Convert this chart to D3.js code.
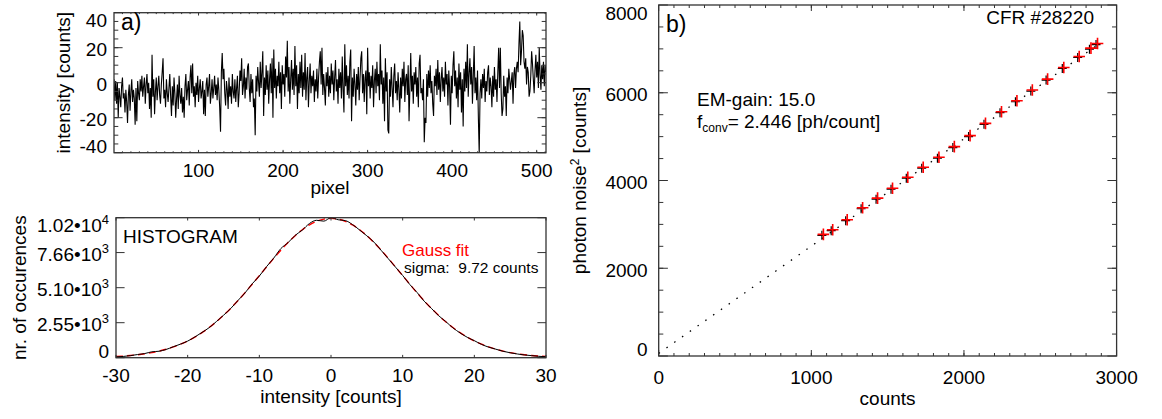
<!DOCTYPE html>
<html><head><meta charset="utf-8">
<script src="https://cdn.jsdelivr.net/npm/d3@7"></script>
<style>
body{margin:0;background:#fff}
text{font-family:"Liberation Sans",Arial,Helvetica,sans-serif;fill:#000}
</style>
</head><body>
<svg id="c" width="1162" height="419"></svg>
<script>
// ---------- data ----------
const pixelNoise = [
2,-10,1,-12,0,-20,-3,-8,-14,-2,3,-9,-6,-17,-4,-11,
-23,-7,-1,-16,-5,2,-11,-4,-9,-24,-3,-22,1,-6,-10,2,
-5,4,-8,-2,3,-12,-1,5,-6,0,-15,-3,-20,16,-8,2,
-18,-5,3,-10,-2,4,-7,-12,-1,6,14,-9,-4,-14,2,-6,
-11,-3,5,-8,-19,-2,-13,3,-6,-20,-9,-1,-15,4,-7,-12,
-3,-17,-8,-20,-2,5,-10,-4,1,-13,3,10,-6,11,-8,-2,
-14,0,-7,4,-11,-3,2,-9,-5,1,-18,-4,-19,-1,3,-8,
-2,5,-12,-6,2,-9,-3,4,-7,-1,-10,3,-4,-14,-28,6,
17,2,8,-6,-13,1,-4,-15,3,-8,-2,-12,5,-5,-9,2,
-11,-3,4,-14,-6,7,1,14,-7,-2,8,-9,3,-4,9,11,
-3,-11,5,-6,2,-14,-9,-30,4,-5,9,0,-8,12,-3,6,
18,-19,3,-7,10,-4,7,-12,2,11,-6,14,-20,19,-3,8,
-9,4,-2,12,-6,6,-15,10,-1,5,-8,15,3,24,-5,9,
-12,2,13,-4,8,-7,21,-2,10,-15,5,-6,12,-3,16,-8,
6,-4,17,-10,3,9,-14,1,11,-6,4,-2,7,-11,2,-5,
8,-9,3,12,18,-1,20,-7,5,-3,-13,6,-2,9,-8,4,
-6,11,-1,7,-10,3,13,-5,2,-12,8,-3,6,-9,15,-4,
-17,22,-2,10,-7,4,-9,12,19,-22,3,-8,8,-1,-13,5,
-4,9,-10,2,14,18,-6,5,-11,3,7,-18,20,-2,6,-9,
4,-3,10,-14,1,8,-6,12,-2,5,-10,22,-1,7,-12,3,
-22,14,-5,6,-27,-29,2,-8,9,-3,-14,4,11,-6,1,-10,
6,-4,-17,3,-9,8,-2,12,-11,2,5,-7,10,-22,-3,17,
-5,4,-12,6,-1,9,-8,3,-14,11,16,-6,-3,-10,2,-34,
-20,-23,5,-8,7,-3,10,-6,1,-12,-19,4,-2,8,-7,13,
-4,6,-11,2,9,-5,3,-8,12,-1,5,-13,7,-3,-24,4,
-6,10,18,-2,7,-9,3,-14,11,-4,6,-17,2,-25,8,-5,
12,-3,22,-8,5,14,-1,9,-12,4,21,-6,3,-10,7,-20,
-41,-6,2,-9,5,-3,8,-11,1,-5,6,10,-7,3,-2,-14,
4,-8,9,-4,2,-11,6,20,-3,20,-6,-19,-15,4,-8,-2,
-19,3,-6,8,2,-4,1,6,-12,5,9,-3,8,12,6,22,
35,10,18,30,27,12,8,14,-1,9,6,-8,-5,4,18,11,
2,-6,7,16,3,12,-3,20,5,-4,10,2,12,-2,10,6];
const noiseXTicks = [100,200,300,400,500];
const noiseYTicks = [-40,-20,0,20,40];

const histBins = d3.range(-30, 31);
const histCounts = [60,90,150,230,300,430,470,600,800,990,1210,1510,1840,2190,2630,3090,3580,4160,4720,5380,5950,6630,7250,7950,8380,8910,9300,9780,10010,9950,10200,10050,9990,9700,9300,8880,8420,7820,7210,6600,5990,5330,4760,4120,3600,3070,2640,2180,1810,1490,1240,970,770,620,470,360,270,200,150,100,70];
const gaussFit = [86,119,160,214,283,371,481,617,784,984,1222,1502,1827,2200,2619,3086,3597,4149,4737,5350,5979,6612,7234,7832,8389,8892,9326,9678,9938,10096,10150,10096,9938,9678,9326,8892,8389,7832,7234,6612,5979,5350,4737,4149,3597,3086,2619,2200,1827,1502,1222,984,784,617,481,371,283,214,160,119,86];
const histXTicks = [-30,-20,-10,0,10,20,30];
const histYTicks = [0,2550,5100,7660,10200];
const histYMant = ["0","2.55","5.10","7.66","1.02"];
const histYExp = [null,"3","3","3","4"];

const ptcCounts = [1079,1140,1235,1336,1434,1532,1632,1733,1836,1937,2040,2141,2246,2347,2448,2548,2654,2755,2832,2875];
const ptcNoise2 = [2773,2879,3106,3379,3598,3825,4075,4303,4530,4773,5023,5303,5568,5818,6061,6311,6576,6826,7016,7121];
const fitX = [0, 2900];
const fitY = [60, 7150];
const ptcXTicks = [0,1000,2000,3000];
const ptcYTicks = [0,2000,4000,6000,8000];

// ---------- drawing ----------
const svg = d3.select('#c');
const FS = 19;

function frame(xs, ys, o){
  const [x0,x1] = xs.range(), [yb,yt] = ys.range();
  const g = svg.append('g').attr('stroke','#333').attr('stroke-width',1);
  const vt = (v,len)=>{const X=xs(v);
    g.append('line').attr('x1',X).attr('x2',X).attr('y1',yb).attr('y2',yb-len);
    g.append('line').attr('x1',X).attr('x2',X).attr('y1',yt).attr('y2',yt+len);};
  const ht = (v,len)=>{const Y=ys(v);
    g.append('line').attr('y1',Y).attr('y2',Y).attr('x1',x0).attr('x2',x0+len);
    g.append('line').attr('y1',Y).attr('y2',Y).attr('x1',x1).attr('x2',x1-len);};
  (o.xMinor||[]).forEach(v=>vt(v,o.xl/2));
  o.xMajor.forEach(v=>vt(v,o.xl));
  (o.yMinor||[]).forEach(v=>ht(v,o.yl/2));
  o.yMajor.forEach(v=>ht(v,o.yl));
  g.append('rect').attr('x',x0).attr('y',yt).attr('width',x1-x0).attr('height',yb-yt)
    .attr('fill','none').attr('stroke','#333').attr('stroke-width',1.3);
  svg.append('g').selectAll('text').data(o.xLabels).join('text')
    .attr('x',d=>xs(d)).attr('y',o.xLabY).attr('text-anchor','middle')
    .attr('font-size',FS).text(d=>d);
  const yl = svg.append('g').selectAll('text').data(o.yMajor).join('text')
    .attr('x',x0-(o.yGap||7)).attr('y',d=>Math.max(yt+8, Math.min(yb-6.5, ys(d)+2)))
    .attr('dy','0.35em').attr('text-anchor','end').attr('font-size',FS);
  if (o.yFmt) yl.each(function(d,i){o.yFmt(d3.select(this),d,i);}); else yl.text(d=>d);
  return g;
}
function ytitle(x, y, build){
  const t = svg.append('text').attr('transform',`translate(${x},${y}) rotate(-90)`)
    .attr('text-anchor','middle').attr('dy','0.35em').attr('font-size',FS);
  build(t);
}

// ---- panel a: noise trace ----
const xa = d3.scaleLinear().domain([0,511]).range([114,546]);
const ya = d3.scaleLinear().domain([-40,40]).range([152.7,12.7]);
svg.append('clipPath').attr('id','ca').append('rect')
  .attr('x',114).attr('y',12.7).attr('width',432).attr('height',140);
svg.append('path').datum(pixelNoise).attr('clip-path','url(#ca)')
  .attr('d', d3.line().x((d,i)=>xa(i)).y(d=>ya(d)))
  .attr('fill','none').attr('stroke','#000').attr('stroke-width',1.1);
frame(xa, ya, {xMajor:noiseXTicks, xMinor:d3.range(10,511,10), xl:2.8,
  yMajor:noiseYTicks, yMinor:d3.range(-35,40,5), yl:8.6, xLabels:noiseXTicks, xLabY:177});
svg.append('text').attr('x',121).attr('y',30).attr('font-size',23).text('a)');
svg.append('text').attr('x',330).attr('y',194).attr('text-anchor','middle').attr('font-size',FS).text('pixel');
ytitle(63, 82.7, t=>t.text('intensity [counts]'));

// ---- panel a lower: histogram ----
const xh = d3.scaleLinear().domain([-30,30]).range([116,546]);
const yh = d3.scaleLinear().domain([0,10200]).range([357.7,217.7]);
svg.append('path').datum(gaussFit)
  .attr('d', d3.line().x((d,i)=>xh(histBins[i])).y(d=>yh(d)).curve(d3.curveMonotoneX))
  .attr('fill','none').attr('stroke','#ff0000').attr('stroke-width',1.4).attr('stroke-dasharray','7,4');
svg.append('path').datum(histCounts)
  .attr('d', d3.line().x((d,i)=>xh(histBins[i])).y(d=>yh(d)).curve(d3.curveMonotoneX))
  .attr('fill','none').attr('stroke','#000').attr('stroke-width',1);
frame(xh, yh, {xMajor:histXTicks, xl:2.8, yMajor:histYTicks, yl:8.6,
  xLabels:histXTicks, xLabY:382,
  yFmt:(sel,d,i)=>{
    if(!histYExp[i]){sel.text(histYMant[i]);return;}
    sel.append('tspan').text(histYMant[i]+'\u202210');
    sel.append('tspan').attr('dy',-8).attr('font-size',13).text(histYExp[i]);
  }});
svg.append('text').attr('x',123).attr('y',243).attr('font-size',FS).text('HISTOGRAM');
svg.append('text').attr('x',402).attr('y',256).attr('font-size',17).style('fill','#ff0000').text('Gauss fit');
svg.append('text').attr('x',404).attr('y',272.5).attr('font-size',15.5).style('white-space','pre').text('sigma:  9.72 counts');
svg.append('text').attr('x',331).attr('y',403).attr('text-anchor','middle').attr('font-size',FS).text('intensity [counts]');
ytitle(19, 287.7, t=>t.text('nr. of occurences'));

// ---- panel b: photon transfer ----
const xb = d3.scaleLinear().domain([0,3000]).range([658.7,1116.6]);
const yb = d3.scaleLinear().domain([0,8000]).range([356,5]);
svg.append('path').datum(fitX.map((v,i)=>[v,fitY[i]]))
  .attr('d', d3.line().x(d=>xb(d[0])).y(d=>yb(d[1])))
  .attr('fill','none').attr('stroke','#000').attr('stroke-width',1.3).attr('stroke-dasharray','1.5,8');
const cross = (s)=>(d,i)=>{const X=xb(ptcCounts[i]),Y=yb(ptcNoise2[i]);
  return `M${X-s},${Y}H${X+s}M${X},${Y-s}V${Y+s}`;};
svg.append('g').selectAll('path').data(ptcCounts).join('path')
  .attr('d',cross(4.5)).attr('transform','translate(-1.5,1)')
  .attr('stroke','#000').attr('stroke-width',1.2).attr('fill','none');
svg.append('g').selectAll('path').data(ptcCounts).join('path')
  .attr('d',cross(5.8)).attr('stroke','#ff0000').attr('stroke-width',1.6).attr('fill','none');
frame(xb, yb, {xMajor:ptcXTicks, xMinor:d3.range(100,3000,100), xl:6,
  yMajor:ptcYTicks, yMinor:d3.range(500,8000,500), yl:9.2, xLabels:ptcXTicks, xLabY:384, yGap:11});
svg.append('text').attr('x',666).attr('y',32).attr('font-size',23).text('b)');
svg.append('text').attr('x',1094).attr('y',24).attr('text-anchor','end').attr('font-size',FS).text('CFR #28220');
svg.append('text').attr('x',697).attr('y',106).attr('font-size',FS).text('EM-gain: 15.0');
const fc = svg.append('text').attr('x',697).attr('y',128).attr('font-size',FS);
fc.append('tspan').text('f');
fc.append('tspan').attr('dy',4).attr('font-size',12).text('conv');
fc.append('tspan').attr('dy',-4).text('= 2.446 [ph/count]');
svg.append('text').attr('x',887.6).attr('y',405).attr('text-anchor','middle').attr('font-size',FS).text('counts');
ytitle(579, 180.5, t=>{
  t.append('tspan').text('photon noise');
  t.append('tspan').attr('dy',-7).attr('font-size',12).text('2');
  t.append('tspan').attr('dy',7).text(' [counts]');
});
</script>
</body></html>
